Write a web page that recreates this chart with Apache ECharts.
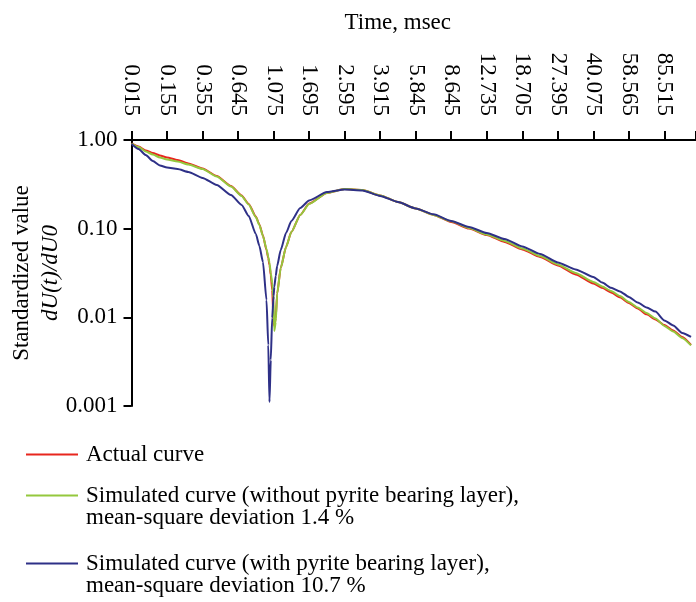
<!DOCTYPE html>
<html>
<head>
<meta charset="utf-8">
<script src="https://cdn.jsdelivr.net/npm/echarts@6/dist/echarts.min.js"></script>
<style>
  html, body { margin: 0; padding: 0; background: #fff; }
  #decay_chart { width: 696px; height: 602px; }
</style>
</head>
<body>
<div id="decay_chart"></div>
<script>
// time gate labels along the top axis (msec)
const timeTicks = ['0.015', '0.155', '0.355', '0.645', '1.075', '1.695', '2.595', '3.915',
  '5.845', '8.645', '12.735', '18.705', '27.395', '40.075', '58.565', '85.515'];
const yTickLabels = ['0.001', '0.01', '0.10', '1.00'];

// position of each sample on the gate scale (1 = one labelled gate)
const gateIndex = [0, 0.2, 0.4, 0.6, 0.8, 1.0, 1.3, 1.6, 2.0, 2.4, 2.8, 3.1, 3.3, 3.5, 3.6, 3.7,
  3.8, 3.85, 3.884, 3.92, 3.96, 4.0, 4.02, 4.06, 4.1, 4.2, 4.35, 4.5, 4.75, 5.0, 5.5, 6.0, 6.5,
  7.0, 7.5, 8.0, 8.5, 9.0, 9.5, 10, 10.5, 11, 11.5, 12, 12.5, 13, 13.25, 13.5, 13.75, 14, 14.25,
  14.5, 14.75, 15, 15.25, 15.5, 15.75];

const actualCurve = [0.913, 0.845, 0.761, 0.713, 0.669, 0.635, 0.595, 0.543, 0.477, 0.393, 0.303,
  0.237, 0.190, 0.137, 0.1115, 0.0838, 0.0575, 0.0467, 0.0390, 0.0301, 0.0204, 0.00887, 0.0080,
  0.00984, 0.0184, 0.0360, 0.0622, 0.0918, 0.143, 0.192, 0.253, 0.280, 0.273, 0.237, 0.200, 0.169,
  0.143, 0.119, 0.1005, 0.0849, 0.0708, 0.0583, 0.0480, 0.0385, 0.0305, 0.0241, 0.0215, 0.0191,
  0.0168, 0.0145, 0.0126, 0.0108, 0.00947, 0.00821, 0.00712, 0.00601, 0.00488];

const simNoPyrite = [0.913, 0.834, 0.742, 0.686, 0.635, 0.603, 0.572, 0.529, 0.471, 0.388, 0.299,
  0.234, 0.187, 0.135, 0.110, 0.0827, 0.0590, 0.0480, 0.0411, 0.0317, 0.0244, 0.0157, 0.00703,
  0.00887, 0.0184, 0.0360, 0.0622, 0.0918, 0.143, 0.190, 0.253, 0.280, 0.273, 0.237, 0.200, 0.169,
  0.143, 0.121, 0.1018, 0.0860, 0.0727, 0.0598, 0.0492, 0.0395, 0.0317, 0.0251, 0.0223, 0.0198,
  0.0174, 0.0149, 0.0129, 0.0112, 0.00972, 0.0080, 0.00693, 0.00586, 0.00482];

const simPyrite = [0.901, 0.792, 0.677, 0.580, 0.516, 0.490, 0.471, 0.436, 0.373, 0.311, 0.240,
  0.185, 0.139, 0.0871, 0.0638, 0.0421, 0.0157, 0.00488, 0.00111, 0.00331, 0.00984, 0.0174, 0.0220,
  0.0293, 0.0380, 0.0575, 0.0894, 0.122, 0.171, 0.208, 0.259, 0.277, 0.270, 0.234, 0.200, 0.169,
  0.145, 0.122, 0.1045, 0.0894, 0.0765, 0.0630, 0.0519, 0.0416, 0.0347, 0.0285, 0.0247, 0.0215,
  0.0196, 0.0170, 0.0147, 0.0129, 0.0116, 0.00923, 0.00810, 0.00667, 0.00601];

const seriesNames = [
  'Actual curve',
  'Simulated curve (without pyrite bearing layer),\nmean-square deviation 1.4 %',
  'Simulated curve (with pyrite bearing layer),\nmean-square deviation 10.7 %',
];
const seriesColors = ['#e8261e', '#94c83d', '#2e3087'];
const seriesValues = [actualCurve, simNoPyrite, simPyrite];

const font = 'Liberation Serif';
const fontSize = 23;

const chart = echarts.init(document.getElementById('decay_chart'));

// icon centre sits on the first text line, so each legend is placed on its own
const legendTops = [443, 462, 530];

const option = {
  animation: false,
  textStyle: { fontFamily: font, color: '#000' },
  grid: { left: 131.5, right: 0, top: 140, bottom: 196, outerBoundsMode: 'none', containLabel: false },
  legend: seriesNames.map((name, i) => ({
    data: [name],
    orient: 'vertical',
    left: 26,
    top: legendTops[i],
    padding: 0,
    icon: 'rect',
    itemWidth: 52,
    itemHeight: 2,
    itemGap: 0,
    selectedMode: false,
    // an empty leading line pushes the first line onto the icon
    formatter: (n) => (n.indexOf('\n') > -1 ? '\n' + n : n),
    textStyle: {
      fontFamily: font,
      fontSize: fontSize,
      lineHeight: 22,
      color: '#000',
      padding: [0, 0, 0, 3],
    },
  })),
  xAxis: {
    type: 'value',
    position: 'top',
    min: 0,
    max: 15.89,
    interval: 1,
    name: 'Time, msec',
    nameLocation: 'middle',
    nameGap: 106,
    nameMoveOverlap: false,
    nameTextStyle: { fontFamily: font, fontSize: fontSize, color: '#000', padding: [0, 32, 0, 0] },
    axisLine: { lineStyle: { color: '#000', width: 2 } },
    axisTick: { length: 9, lineStyle: { color: '#000', width: 2 } },
    axisLabel: {
      rotate: 90,
      margin: 24,
      fontFamily: font,
      fontSize: fontSize,
      color: '#000',
      formatter: (v) => (Number.isInteger(v) && timeTicks[v] ? timeTicks[v] : ''),
    },
    splitLine: { show: false },
  },
  yAxis: {
    type: 'log',
    logBase: 10,
    min: 0.001,
    max: 1,
    name: '{a|Standardized value}\n{b|dU(t)/dU0}',
    nameLocation: 'middle',
    nameRotate: 90,
    nameGap: 66,
    nameMoveOverlap: false,
    nameTextStyle: {
      rich: {
        a: { fontFamily: font, fontSize: fontSize, lineHeight: 29, color: '#000' },
        b: { fontFamily: font, fontSize: fontSize, lineHeight: 29, fontStyle: 'italic', color: '#000' },
      },
    },
    axisLine: { show: true, lineStyle: { color: '#000', width: 2 } },
    axisTick: { show: true, length: 8, lineStyle: { color: '#000', width: 2 } },
    minorTick: { show: false },
    axisLabel: {
      margin: 14,
      fontFamily: font,
      fontSize: fontSize,
      color: '#000',
      formatter: (v) => yTickLabels[Math.round(Math.log10(v)) + 3],
    },
    splitLine: { show: false },
  },
  series: seriesNames.map((name, i) => ({
    name: name,
    type: 'line',
    symbol: 'none',
    smooth: 0.2,
    smoothMonotone: 'x',
    z: 2 + i,
    lineStyle: { color: seriesColors[i], width: 2 },
    itemStyle: { color: seriesColors[i] },
    data: gateIndex.map((x, k) => [x, seriesValues[i][k]]),
  })),
};

chart.setOption(option);
</script>
</body>
</html>
